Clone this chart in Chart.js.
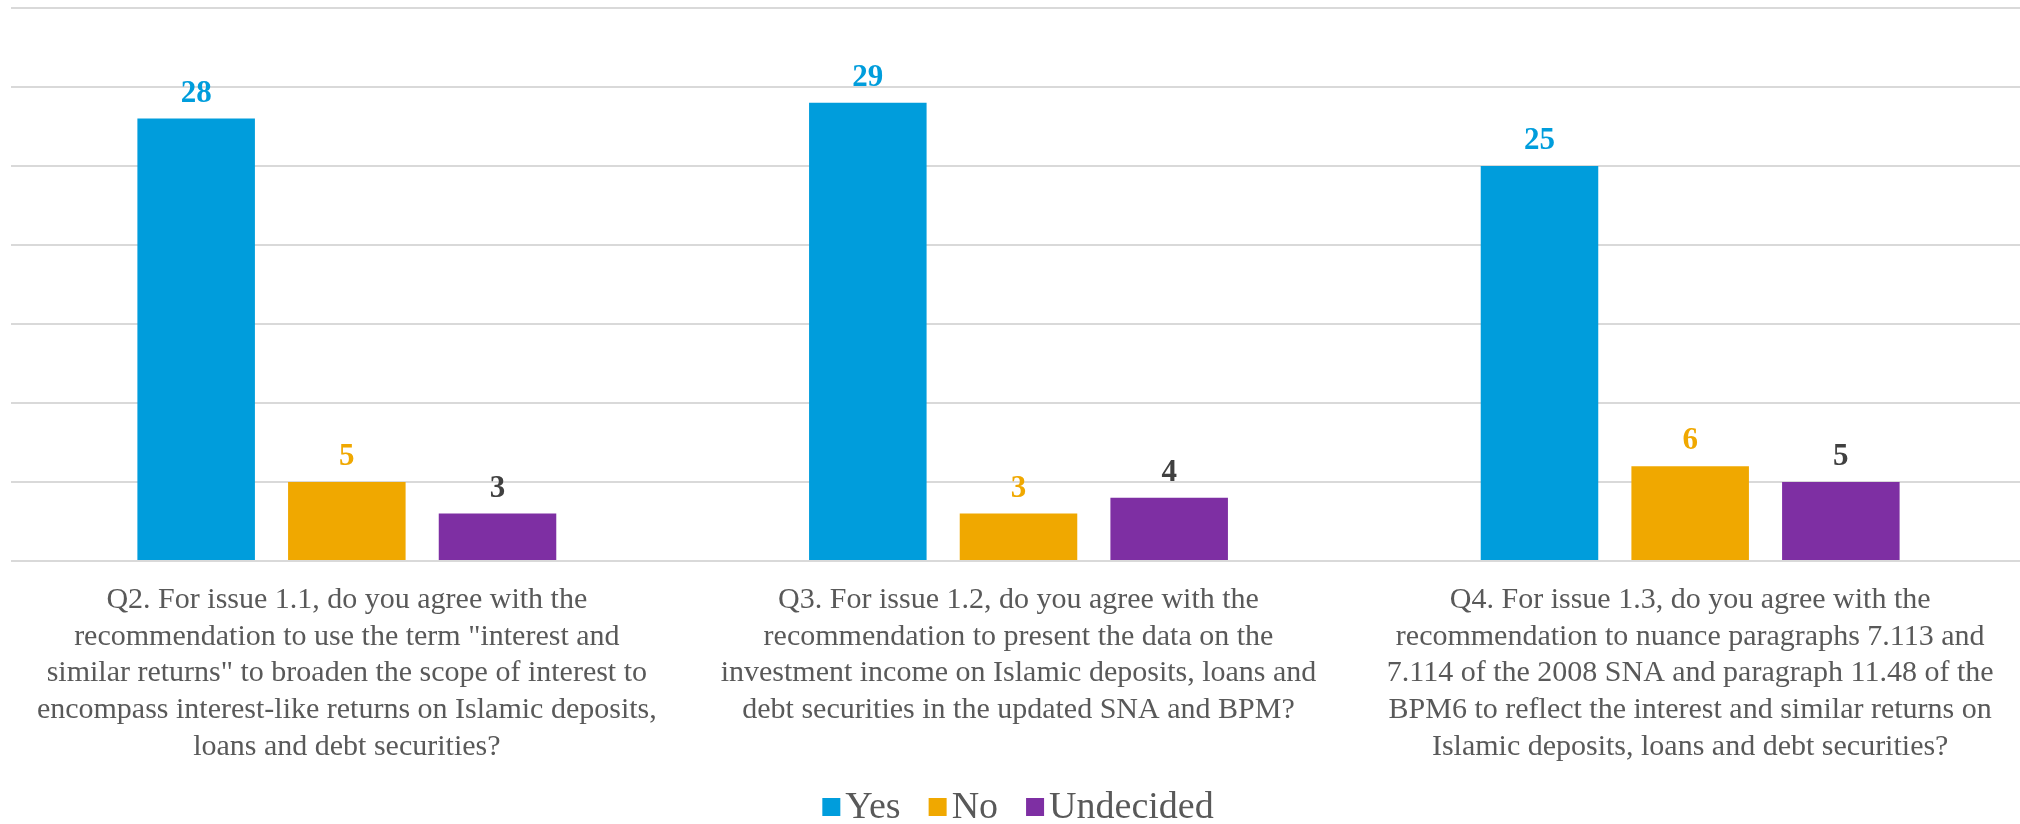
<!DOCTYPE html>
<html>
<head>
<meta charset="utf-8">
<script src="https://cdn.jsdelivr.net/npm/chart.js@4/dist/chart.umd.min.js"></script>
<style>
  html, body { margin: 0; padding: 0; background: #ffffff; overflow: hidden; }
  #wrap { width: 2026px; height: 824px; }
</style>
</head>
<body>
<div id="wrap"><canvas id="chart"></canvas></div>
<script>
// question labels, one line per array entry
const questions = [
  ['Q2. For issue 1.1, do you agree with the',
   'recommendation to use the term "interest and',
   'similar returns" to broaden the scope of interest to',
   'encompass interest-like returns on Islamic deposits,',
   'loans and debt securities?'],
  ['Q3. For issue 1.2, do you agree with the',
   'recommendation to present the data on the',
   'investment income on Islamic deposits, loans and',
   'debt securities in the updated SNA and BPM?'],
  ['Q4. For issue 1.3, do you agree with the',
   'recommendation to nuance paragraphs 7.113 and',
   '7.114 of the 2008 SNA and paragraph 11.48 of the',
   'BPM6 to reflect the interest and similar returns on',
   'Islamic deposits, loans and debt securities?']
]
const yes = [28, 29, 25]
const no = [5, 3, 6]
const undecided = [3, 4, 5]

const serif = '"Liberation Serif", "Times New Roman", serif'

// draws the value above each bar
const valueLabels = {
  id: 'valueLabels',
  afterDatasetsDraw(chart) {
    const ctx = chart.ctx
    ctx.save()
    ctx.font = 'bold 31px ' + serif
    ctx.textAlign = 'center'
    ctx.textBaseline = 'middle'
    chart.data.datasets.forEach((ds, i) => {
      const meta = chart.getDatasetMeta(i)
      if (meta.hidden) return
      ctx.fillStyle = ds.labelColor
      meta.data.forEach((bar, j) => {
        ctx.fillText(ds.data[j], bar.x, bar.y - 25)
      })
    })
    ctx.restore()
  }
}

// legend drawn under the labels, Excel style (box close to its text)
const bottomLegend = {
  id: 'bottomLegend',
  afterDraw(chart) {
    const ctx = chart.ctx
    const box = 18, gap = 5, itemGap = 28
    ctx.save()
    ctx.font = '38px ' + serif
    ctx.textBaseline = 'middle'
    const items = chart.data.datasets.map(ds => ({
      text: ds.label, color: ds.backgroundColor, w: ctx.measureText(ds.label).width
    }))
    const total = items.reduce((s, it) => s + box + gap + it.w, 0) + itemGap * (items.length - 1)
    const cy = chart.height - 17
    let x = 1018 - total / 2
    items.forEach(it => {
      ctx.fillStyle = it.color
      ctx.fillRect(x, cy - box / 2, box, box)
      ctx.fillStyle = '#595959'
      ctx.fillText(it.text, x + box + gap, cy + 1)
      x += box + gap + it.w + itemGap
    })
    ctx.restore()
  }
}

const config = {
  type: 'bar',
  data: {
    labels: questions,
    datasets: [
      { label: 'Yes', data: yes, backgroundColor: '#009ddc', labelColor: '#009ddc' },
      { label: 'No', data: no, backgroundColor: '#f0a800', labelColor: '#f0a800' },
      { label: 'Undecided', data: undecided, backgroundColor: '#7e2fa3', labelColor: '#404040' }
    ]
  },
  options: {
    responsive: true,
    maintainAspectRatio: false,
    animation: false,
    layout: { padding: { top: 8, left: 11, right: 0, bottom: 46 } },
    datasets: {
      bar: { categoryPercentage: 0.673, barPercentage: 0.78 }
    },
    plugins: {
      legend: { display: false },
      tooltip: { enabled: false }
    },
    scales: {
      x: {
        grid: { display: false },
        border: { display: false },
        ticks: {
          color: '#595959',
          font: { family: serif, size: 30, lineHeight: 1.22 },
          maxRotation: 0,
          autoSkip: false,
          padding: 13
        }
      },
      y: {
        min: 0,
        max: 35,
        ticks: { display: false, stepSize: 5 },
        border: { display: false },
        grid: { color: '#d9d9d9', lineWidth: 2, drawTicks: false }
      }
    }
  },
  plugins: [valueLabels, bottomLegend]
}

new Chart(document.getElementById('chart'), config)
</script>
</body>
</html>
